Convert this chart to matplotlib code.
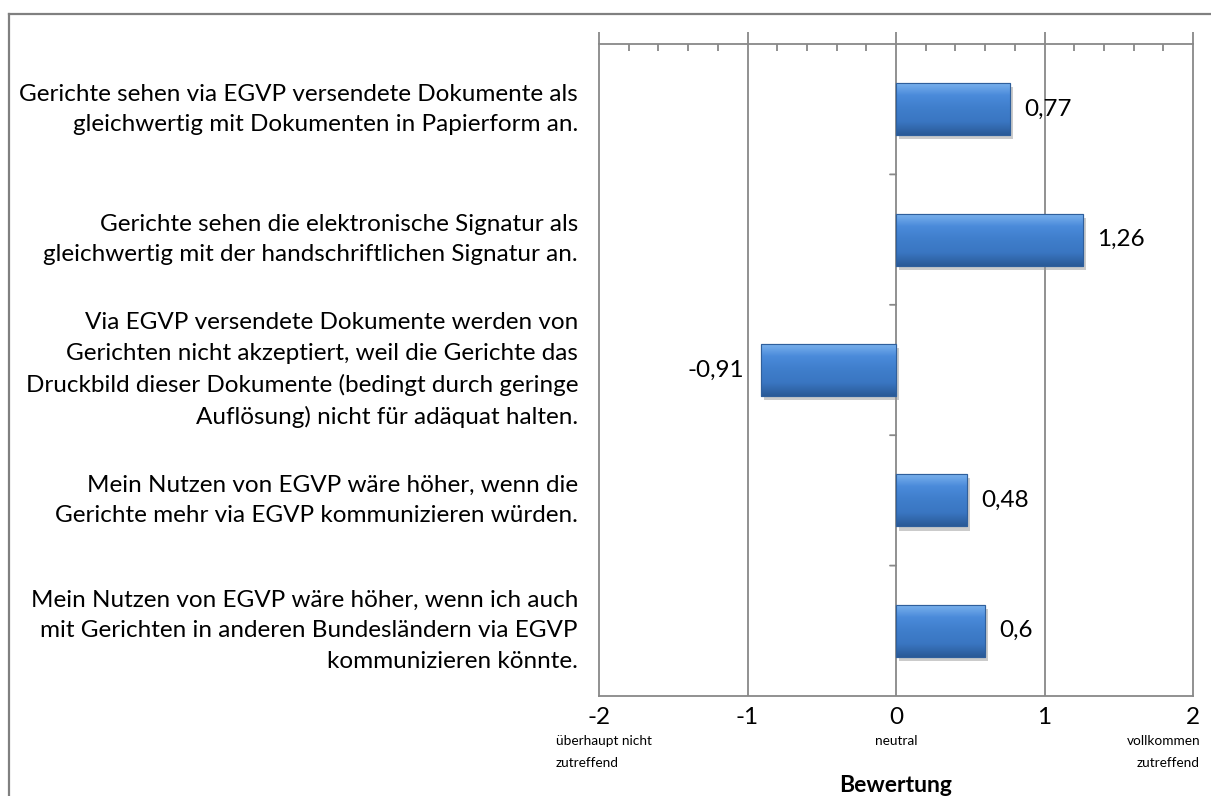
import matplotlib
matplotlib.use("Agg")
import matplotlib.pyplot as plt
import numpy as np
from matplotlib.ticker import MultipleLocator, FixedLocator, NullFormatter
import matplotlib.patheffects as pe
from matplotlib.colors import LinearSegmentedColormap

categories = [
    "Gerichte sehen via EGVP versendete Dokumente als\ngleichwertig mit Dokumenten in Papierform an.",
    "Gerichte sehen die elektronische Signatur als\ngleichwertig mit der handschriftlichen Signatur an.",
    "Via EGVP versendete Dokumente werden von\nGerichten nicht akzeptiert, weil die Gerichte das\nDruckbild dieser Dokumente (bedingt durch geringe\nAuflösung) nicht für adäquat halten.",
    "Mein Nutzen von EGVP wäre höher, wenn die\nGerichte mehr via EGVP kommunizieren würden.",
    "Mein Nutzen von EGVP wäre höher, wenn ich auch\nmit Gerichten in anderen Bundesländern via EGVP\nkommunizieren könnte.",
]
values = [0.77, 1.26, -0.91, 0.48, 0.6]
value_labels = ["0,77", "1,26", "-0,91", "0,48", "0,6"]
x_ticks = [-2, -1, 0, 1, 2]
x_ticklabels = ["-2", "-1", "0", "1", "2"]
x_sublabels = ["überhaupt nicht\nzutreffend", "neutral", "vollkommen\nzutreffend"]
x_title = "Bewertung"

plt.rcParams['font.family'] = ['Lato', 'DejaVu Sans']
W, H = 1211, 796
fig = plt.figure(figsize=(W / 100, H / 100), dpi=100)
ax = fig.add_axes([599 / W, 1 - 696 / H, (1193 - 599) / W, (696 - 44) / H])

grid_c = '#888888'
n = len(values)
ypos = np.arange(n)
ax.set_xlim(-2, 2)
ax.set_ylim(n - 0.5, -0.5)

for xv in [-1, 0, 1]:
    ax.axvline(xv, color=grid_c, lw=1.3, zorder=1)

bars = ax.barh(ypos, values, height=0.4, color='#3D7BC8', edgecolor='#2F5F9C', lw=0.8, zorder=3,
               path_effects=[pe.SimplePatchShadow(offset=(2, -3), shadow_rgbFace='#999999', alpha=0.5), pe.Normal()])

cmap = LinearSegmentedColormap.from_list('g', ['#7DB4EE', '#4A8ADA', '#3F7ECB', '#3A76C2', '#2A5A97'])
grad = np.linspace(0, 1, 100).reshape(-1, 1)
for b in bars:
    x0, y0 = b.get_x(), b.get_y()
    w, h = b.get_width(), b.get_height()
    im = ax.imshow(grad, cmap=cmap, aspect='auto', extent=(x0, x0 + w, y0 + h, y0), zorder=4,
                   interpolation='bicubic')
    im.set_clip_path(b)
    ax.add_patch(plt.Rectangle((x0, y0), w, h, fill=False, edgecolor='#2F5F9C', lw=0.8, zorder=5))

ax.set_xlim(-2, 2)
ax.set_ylim(n - 0.5, -0.5)

for v, lab, yv in zip(values, value_labels, ypos):
    ax.annotate(lab, (v, yv), xytext=(14 if v >= 0 else -17, 0), textcoords='offset pixels',
                ha='left' if v >= 0 else 'right', va='center', fontsize=17.5, color='black', zorder=6)

for s in ['left', 'right', 'bottom', 'top']:
    ax.spines[s].set_color(grid_c)
    ax.spines[s].set_linewidth(1.3)

ax.xaxis.set_ticks_position('top')
ax.xaxis.set_major_locator(FixedLocator(x_ticks))
ax.xaxis.set_minor_locator(MultipleLocator(0.2))
ax.xaxis.set_major_formatter(NullFormatter())
ax.tick_params(axis='x', which='major', direction='out', length=9, width=1.3, color=grid_c)
ax.tick_params(axis='x', which='minor', direction='in', length=5, width=1.3, color=grid_c)
ax.set_yticks([])

for yb in np.arange(0.5, n - 0.5, 1.0):
    ax.annotate('', xy=(0, yb), xytext=(-6, 0), textcoords='offset pixels', zorder=2,
                arrowprops=dict(arrowstyle='-', color=grid_c, lw=1.3, shrinkA=0, shrinkB=0))

for cat, yv in zip(categories, ypos):
    ax.annotate(cat, (0, yv), xycoords=('axes fraction', 'data'), xytext=(-21, 0), textcoords='offset pixels',
                ha='right', va='center', fontsize=17.5, linespacing=1.55, annotation_clip=False)

for xv, lab in zip(x_ticks, x_ticklabels):
    ax.annotate(lab, (xv, 0), xycoords=('data', 'axes fraction'), xytext=(0, -21), textcoords='offset pixels',
                ha='center', va='center', fontsize=17.5, annotation_clip=False)

ax.annotate(x_sublabels[0], (-2, 0), xycoords=('data', 'axes fraction'), xytext=(-43, -56), textcoords='offset pixels',
            ha='left', va='center', fontsize=9.8, linespacing=2.0, multialignment='left', annotation_clip=False)
ax.annotate(x_sublabels[1], (0, 0), xycoords=('data', 'axes fraction'), xytext=(0, -45), textcoords='offset pixels',
            ha='center', va='center', fontsize=9.8, annotation_clip=False)
ax.annotate(x_sublabels[2], (2, 0), xycoords=('data', 'axes fraction'), xytext=(7, -56), textcoords='offset pixels',
            ha='right', va='center', fontsize=9.8, linespacing=2.0, multialignment='right', annotation_clip=False)
ax.annotate(x_title, (0, 0), xycoords=('data', 'axes fraction'), xytext=(0, -89), textcoords='offset pixels',
            ha='center', va='center', fontsize=16.5, fontweight='bold', annotation_clip=False)

fig.add_artist(plt.Line2D([8.5 / W, 1], [1 - 13.5 / H, 1 - 13.5 / H], color='#808080', lw=1.6))
fig.add_artist(plt.Line2D([8.5 / W, 8.5 / W], [0, 1 - 13.5 / H], color='#808080', lw=1.6))

fig.savefig('out.png', dpi=100, facecolor='white')
